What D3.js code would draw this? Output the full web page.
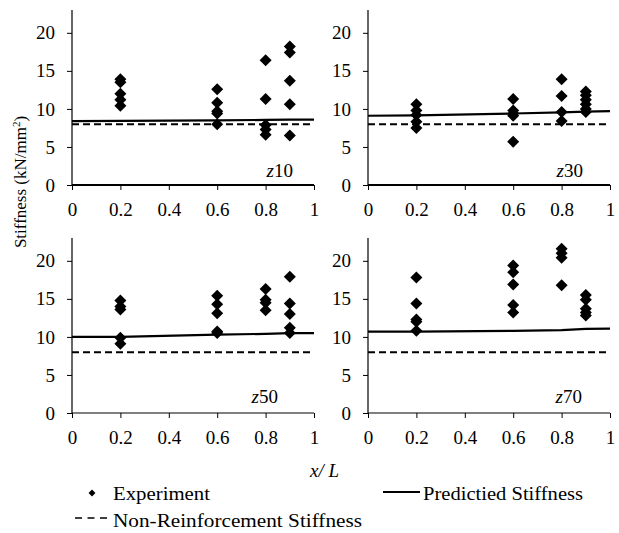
<!doctype html>
<html lang="en">
<head>
  <meta charset="utf-8">
  <title>Stiffness vs x/L</title>
  <style>
    html, body {
      margin: 0;
      padding: 0;
      background: white;
    }
  </style>
</head>
<body>
  <div id="chart"></div>

  <script src="https://d3js.org/d3.v7.min.js"></script>
  <script>
    // axes
    const xTicks = [0, 0.2, 0.4, 0.6, 0.8, 1];
    const yTicks = [0, 5, 10, 15, 20];
    const yMax = 23;

    // measurement stations along the member
    const stations = [0.2, 0.6, 0.8, 0.9];

    // experiment values per station (kN/mm2)
    const expZ10 = [[13.9, 13.5, 12.0, 11.2, 10.4], [12.6, 10.8, 9.7, 9.4, 8.0], [16.4, 11.3, 7.9, 7.3, 6.6], [18.2, 17.4, 13.7, 10.6, 6.5]];
    const expZ30 = [[10.6, 9.8, 9.2, 8.3, 7.5], [11.3, 9.8, 9.4, 9.1, 5.7], [13.9, 11.7, 9.6, 8.4], [12.3, 11.8, 11.2, 10.6, 10.0, 9.6]];
    const expZ50 = [[14.8, 14.0, 13.6, 9.9, 9.1], [15.4, 14.3, 13.1, 10.7, 10.5], [16.3, 14.9, 14.5, 13.5], [17.9, 14.4, 13.0, 11.2, 10.5]];
    const expZ70 = [[17.8, 14.4, 12.3, 12.0, 10.8], [19.4, 18.5, 16.9, 14.2, 13.2], [21.6, 21.0, 20.4, 16.8], [15.5, 14.9, 13.7, 13.2, 12.8]];

    // predicted stiffness
    const predX = [0, 0.2, 0.6, 0.8, 0.9, 1];
    const predZ10 = [8.4, 8.42, 8.5, 8.55, 8.6, 8.6];
    const predZ30 = [9.1, 9.15, 9.4, 9.55, 9.65, 9.7];
    const predZ50 = [10.0, 10.0, 10.3, 10.4, 10.5, 10.5];
    const predZ70 = [10.7, 10.7, 10.8, 10.9, 11.05, 11.1];

    // non-reinforcement stiffness
    const nonReinf = 8;

    const panelNames = ["10", "30", "50", "70"];
    const panelExp = [expZ10, expZ30, expZ50, expZ70];
    const panelPred = [predZ10, predZ30, predZ50, predZ70];

    const W = 619, H = 533;
    const FONT = '"Liberation Serif"';
    const svg = d3.select("#chart").append("svg")
      .attr("width", W)
      .attr("height", H);

    // panel frames: left/right pixel edge of x, bottom/top of y
    const frames = [
      { x0: 72, x1: 314, y0: 185, y1: 10, labelX: 293, labelY: 177, axisW: 2 },
      { x0: 368, x1: 610, y0: 185, y1: 10, labelX: 583, labelY: 177, axisW: 2 },
      { x0: 72, x1: 314, y0: 413, y1: 238, labelX: 278, labelY: 403, axisW: 1.2 },
      { x0: 368, x1: 610, y0: 413, y1: 238, labelX: 582, labelY: 403, axisW: 1.2 }
    ];

    const diamond = d3.symbol().type(d3.symbolSquare).size(72);

    frames.forEach((f, i) => {
      const x = d3.scaleLinear().domain([0, 1]).range([f.x0, f.x1]);
      const y = d3.scaleLinear().domain([0, yMax]).range([f.y0, f.y1]);
      const g = svg.append("g");

      // y axis
      const ya = g.append("g")
        .attr("transform", `translate(${f.x0},0)`)
        .call(d3.axisLeft(y).tickValues(yTicks).tickSize(5).tickPadding(12).tickFormat(d3.format("d")));
      ya.select(".domain").attr("stroke", "#000").attr("stroke-width", 1.2)
        .attr("d", `M0,${f.y0}V${f.y1}`);
      ya.selectAll(".tick line").attr("stroke", "#000");
      ya.selectAll(".tick text")
        .style("font-family", FONT)
        .style("font-size", "19px");

      // x axis
      const xa = g.append("g")
        .attr("transform", `translate(0,${f.y0})`)
        .call(d3.axisBottom(x).tickValues(xTicks).tickSize(5).tickPadding(13).tickFormat(d => d));
      xa.select(".domain").attr("stroke", "#000").attr("stroke-width", f.axisW)
        .attr("d", `M${f.x0},0H${f.x1}`);
      xa.selectAll(".tick line").attr("stroke", "#000");
      xa.selectAll(".tick text")
        .style("font-family", FONT)
        .style("font-size", "19px");

      // non-reinforcement stiffness
      g.append("line")
        .attr("x1", x(0)).attr("x2", x(1))
        .attr("y1", y(nonReinf)).attr("y2", y(nonReinf))
        .attr("stroke", "#000")
        .attr("stroke-width", 2)
        .attr("stroke-dasharray", "7,4");

      // predicted stiffness
      const line = d3.line().x((d, j) => x(predX[j])).y(d => y(d));
      g.append("path")
        .attr("d", line(panelPred[i]))
        .attr("fill", "none")
        .attr("stroke", "#000")
        .attr("stroke-width", 2.2);

      // experiment points
      const pts = [];
      panelExp[i].forEach((vals, k) => vals.forEach(v => pts.push({ x: stations[k], v })));
      g.selectAll(".pt").data(pts).enter().append("path")
        .attr("class", "pt")
        .attr("d", diamond)
        .attr("transform", d => `translate(${x(d.x)},${y(d.v)}) rotate(45)`)
        .attr("fill", "#000");

      // panel label
      const lab = g.append("text")
        .attr("x", f.labelX)
        .attr("y", f.labelY)
        .attr("text-anchor", "end")
        .style("font-family", FONT)
        .style("font-size", "19px");
      lab.append("tspan").style("font-style", "italic").text("z");
      lab.append("tspan").text(panelNames[i]);
    });

    // y axis title
    const yt = svg.append("text")
      .attr("transform", "translate(26,182) rotate(-90)")
      .attr("text-anchor", "middle")
      .style("font-family", FONT)
      .style("font-size", "17px");
    yt.append("tspan").text("Stiffness (kN/mm");
    yt.append("tspan").attr("baseline-shift", "super").style("font-size", "11px").text("2");
    yt.append("tspan").text(")");

    // x axis title
    svg.append("text")
      .attr("x", 310)
      .attr("y", 477)
      .style("font-family", FONT)
      .style("font-size", "19px")
      .style("font-style", "italic")
      .text("x/ L");

    // legend
    const leg = svg.append("g");
    leg.append("path")
      .attr("d", d3.symbol().type(d3.symbolSquare).size(24))
      .attr("transform", "translate(92,493) rotate(45)")
      .attr("fill", "#000");
    leg.append("text").attr("x", 113).attr("y", 500)
      .attr("textLength", 97).attr("lengthAdjust", "spacingAndGlyphs")
      .style("font-family", FONT)
      .style("font-size", "19px").text("Experiment");

    leg.append("line")
      .attr("x1", 383).attr("x2", 420).attr("y1", 492).attr("y2", 492)
      .attr("stroke", "#000").attr("stroke-width", 2.2);
    leg.append("text").attr("x", 423).attr("y", 500)
      .attr("textLength", 160).attr("lengthAdjust", "spacingAndGlyphs")
      .style("font-family", FONT)
      .style("font-size", "19px").text("Predictied Stiffness");

    leg.append("line")
      .attr("x1", 75).attr("x2", 111).attr("y1", 518).attr("y2", 518)
      .attr("stroke", "#000").attr("stroke-width", 1.5)
      .attr("stroke-dasharray", "7,5.5");
    leg.append("text").attr("x", 113).attr("y", 527)
      .attr("textLength", 249).attr("lengthAdjust", "spacingAndGlyphs")
      .style("font-family", FONT)
      .style("font-size", "19px").text("Non-Reinforcement  Stiffness");
  </script>
</body>
</html>
